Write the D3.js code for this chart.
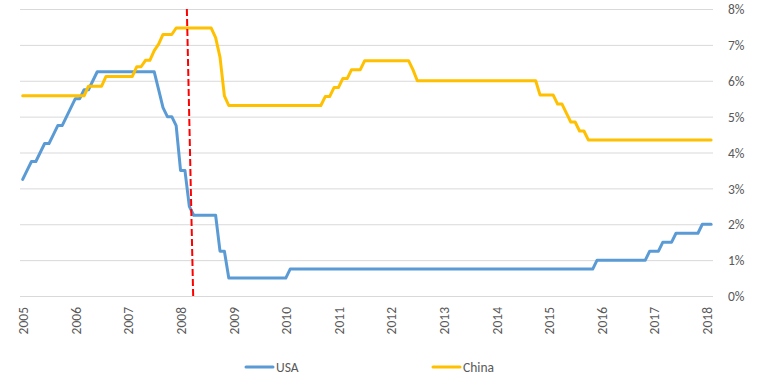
<!DOCTYPE html>
<html><head><meta charset="utf-8">
<script src="https://cdn.jsdelivr.net/npm/d3@7"></script>
<style>
html,body{margin:0;padding:0;background:#fff;}
svg{display:block;font-family:Carlito,Lato,"Liberation Sans",sans-serif;}
</style></head><body>
<svg id="chart" width="767" height="382"></svg>
<script>
// ---- data ----
const startYear = 2005; // first monthly observation: Jan 2005
const yearLabels = ["2005","2006","2007","2008","2009","2010","2011","2012","2013","2014","2015","2016","2017","2018"];
const rateTicks = [0,1,2,3,4,5,6,7,8];
const seriesNames = ["USA","China"];

// month-end values, Jan 2005 .. Feb 2018
const usaRates = [
  3.25,3.5,3.75,3.75,4.0,4.25,4.25,4.5,4.75,4.75,5.0,5.25,            // 2005
  5.5,5.5,5.75,5.75,6.0,6.25,6.25,6.25,6.25,6.25,6.25,6.25,           // 2006
  6.25,6.25,6.25,6.25,6.25,6.25,6.25,5.75,5.25,5.0,5.0,4.75,          // 2007
  3.5,3.5,2.5,2.25,2.25,2.25,2.25,2.25,2.25,1.25,1.25,0.5,            // 2008
  0.5,0.5,0.5,0.5,0.5,0.5,0.5,0.5,0.5,0.5,0.5,0.5,                    // 2009
  0.5,0.75,0.75,0.75,0.75,0.75,0.75,0.75,0.75,0.75,0.75,0.75,         // 2010
  0.75,0.75,0.75,0.75,0.75,0.75,0.75,0.75,0.75,0.75,0.75,0.75,        // 2011
  0.75,0.75,0.75,0.75,0.75,0.75,0.75,0.75,0.75,0.75,0.75,0.75,        // 2012
  0.75,0.75,0.75,0.75,0.75,0.75,0.75,0.75,0.75,0.75,0.75,0.75,        // 2013
  0.75,0.75,0.75,0.75,0.75,0.75,0.75,0.75,0.75,0.75,0.75,0.75,        // 2014
  0.75,0.75,0.75,0.75,0.75,0.75,0.75,0.75,0.75,0.75,0.75,1.0,         // 2015
  1.0,1.0,1.0,1.0,1.0,1.0,1.0,1.0,1.0,1.0,1.0,1.25,                   // 2016
  1.25,1.25,1.5,1.5,1.5,1.75,1.75,1.75,1.75,1.75,1.75,2.0,            // 2017
  2.0,2.0                                                             // 2018
];
const chinaRates = [
  5.58,5.58,5.58,5.58,5.58,5.58,5.58,5.58,5.58,5.58,5.58,5.58,        // 2005
  5.58,5.58,5.58,5.85,5.85,5.85,5.85,6.12,6.12,6.12,6.12,6.12,        // 2006
  6.12,6.12,6.39,6.39,6.57,6.57,6.84,7.02,7.29,7.29,7.29,7.47,        // 2007
  7.47,7.47,7.47,7.47,7.47,7.47,7.47,7.47,7.20,6.66,5.58,5.31,        // 2008
  5.31,5.31,5.31,5.31,5.31,5.31,5.31,5.31,5.31,5.31,5.31,5.31,        // 2009
  5.31,5.31,5.31,5.31,5.31,5.31,5.31,5.31,5.31,5.56,5.56,5.81,        // 2010
  5.81,6.06,6.06,6.31,6.31,6.31,6.56,6.56,6.56,6.56,6.56,6.56,        // 2011
  6.56,6.56,6.56,6.56,6.56,6.31,6.00,6.00,6.00,6.00,6.00,6.00,        // 2012
  6.00,6.00,6.00,6.00,6.00,6.00,6.00,6.00,6.00,6.00,6.00,6.00,        // 2013
  6.00,6.00,6.00,6.00,6.00,6.00,6.00,6.00,6.00,6.00,5.60,5.60,        // 2014
  5.60,5.60,5.35,5.35,5.10,4.85,4.85,4.60,4.60,4.35,4.35,4.35,        // 2015
  4.35,4.35,4.35,4.35,4.35,4.35,4.35,4.35,4.35,4.35,4.35,4.35,        // 2016
  4.35,4.35,4.35,4.35,4.35,4.35,4.35,4.35,4.35,4.35,4.35,4.35,        // 2017
  4.35,4.35                                                           // 2018
];
// crisis marker (fractional year, rate) – top and bottom end of the dashed line
const markerTimes = [2008.12, 2008.24];
const markerRates = [8, 0];

// ---- styling / layout ----
const colors = { USA: "#5b9bd5", China: "#ffc000" };
const textColor = "#595959";
const gridColor = "#d9d9d9";
const fontSize = 13.5;
const plotLeft = 20, plotRight = 713;

const svg = d3.select("#chart");

const x = d3.scaleLinear().domain([2005, 2018]).range([22.7, 706.7]);
const y = d3.scaleLinear().domain([0, 8]).range([296, 9]);

// y axis with gridlines (labels on right)
const yAxis = d3.axisRight(y)
  .tickValues(rateTicks)
  .tickSize(-(plotRight - plotLeft))
  .tickPadding(15)
  .tickFormat(d => d + "%");
const gy = svg.append("g").attr("transform", `translate(${plotRight},0)`).call(yAxis);
gy.select(".domain").remove();
gy.selectAll(".tick line").attr("stroke", gridColor).attr("stroke-width", 1);
gy.selectAll(".tick text")
  .attr("fill", textColor).attr("font-size", fontSize)
  .attr("font-family", "Carlito,Lato,sans-serif")
  .attr("dy", "0.35em");

// x axis (rotated year labels)
const xAxis = d3.axisBottom(x)
  .tickValues(yearLabels.map(Number))
  .tickSize(0)
  .tickFormat((d, i) => yearLabels[i]);
const gx = svg.append("g").attr("transform", `translate(0,${y(0)})`).call(xAxis);
gx.select(".domain").remove();
gx.selectAll(".tick text")
  .attr("fill", textColor).attr("font-size", fontSize)
  .attr("font-family", "Carlito,Lato,sans-serif")
  .attr("transform", "rotate(-90)")
  .attr("text-anchor", "end")
  .attr("x", -11).attr("y", 0).attr("dy", "0.36em");

// series lines
const line = d3.line()
  .x((d, i) => x(startYear + i / 12))
  .y(d => y(d));
const seriesData = { USA: usaRates, China: chinaRates };
seriesNames.forEach(name => {
  svg.append("path")
    .datum(seriesData[name])
    .attr("d", line)
    .attr("fill", "none")
    .attr("stroke", colors[name])
    .attr("stroke-width", 3)
    .attr("stroke-linejoin", "round")
    .attr("stroke-linecap", "round");
});

// crisis marker
const markerLine = d3.line().x(d => x(d[0])).y(d => y(d[1]));
svg.append("path")
  .datum(markerTimes.map((t, i) => [t, markerRates[i]]))
  .attr("d", markerLine)
  .attr("fill", "none")
  .attr("stroke", "#ff0000")
  .attr("stroke-width", 2)
  .attr("stroke-dasharray", "7,3");

// legend
const legendItems = [
  { name: "USA", x0: 246 },
  { name: "China", x0: 433 }
];
const legY = 367;
legendItems.forEach(it => {
  svg.append("line")
    .attr("x1", it.x0).attr("x2", it.x0 + 27)
    .attr("y1", legY).attr("y2", legY)
    .attr("stroke", colors[it.name]).attr("stroke-width", 3)
    .attr("stroke-linecap", "round");
  svg.append("text")
    .attr("x", it.x0 + 30).attr("y", legY)
    .attr("dy", "0.35em")
    .attr("fill", textColor).attr("font-size", fontSize)
    .text(it.name);
});
</script>
</body></html>
